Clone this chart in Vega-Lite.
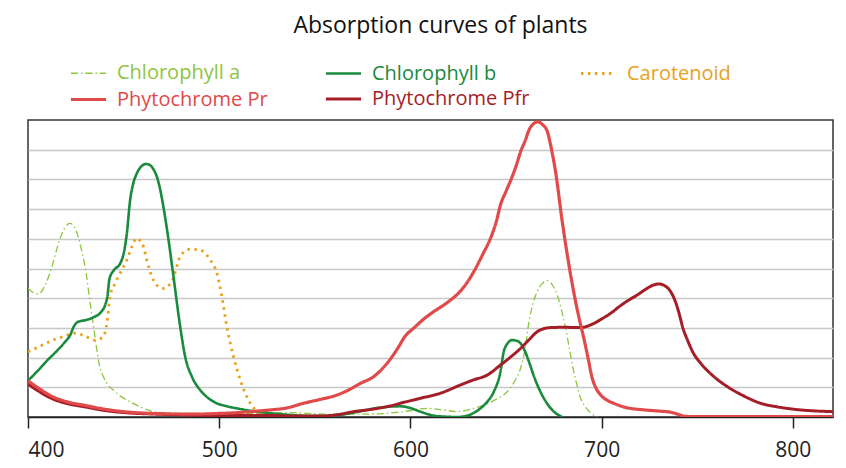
{
  "$schema": "https://vega.github.io/schema/vega-lite/v6.json",
  "width": 805,
  "height": 297,
  "autosize": "none",
  "padding": {"left": 28, "top": 120, "right": 13, "bottom": 51},
  "background": "white",
  "title": {
    "text": "Absorption curves of plants",
    "font": "Open Sans",
    "fontSize": 23,
    "fontWeight": "normal",
    "color": "#111",
    "anchor": "middle",
    "dx": 10,
    "offset": 20
  },
  "config": {
    "view": {"stroke": "#333", "strokeWidth": 1.5},
    "font": "Open Sans"
  },
  "data": {
    "values": [
      {"s": "Chlorophyll a", "w": 400, "v": 4.33},
      {"s": "Chlorophyll a", "w": 403, "v": 4.18},
      {"s": "Chlorophyll a", "w": 405.5, "v": 4.14},
      {"s": "Chlorophyll a", "w": 409, "v": 4.45},
      {"s": "Chlorophyll a", "w": 412.5, "v": 5.06},
      {"s": "Chlorophyll a", "w": 416, "v": 5.85},
      {"s": "Chlorophyll a", "w": 419, "v": 6.35},
      {"s": "Chlorophyll a", "w": 422, "v": 6.52},
      {"s": "Chlorophyll a", "w": 425, "v": 6.3},
      {"s": "Chlorophyll a", "w": 428, "v": 5.62},
      {"s": "Chlorophyll a", "w": 430.5, "v": 4.8},
      {"s": "Chlorophyll a", "w": 432.5, "v": 3.83},
      {"s": "Chlorophyll a", "w": 434.5, "v": 2.95},
      {"s": "Chlorophyll a", "w": 436, "v": 2.26},
      {"s": "Chlorophyll a", "w": 437.7, "v": 1.65},
      {"s": "Chlorophyll a", "w": 439.4, "v": 1.36},
      {"s": "Chlorophyll a", "w": 441.5, "v": 1.1},
      {"s": "Chlorophyll a", "w": 444.7, "v": 0.91},
      {"s": "Chlorophyll a", "w": 448, "v": 0.72},
      {"s": "Chlorophyll a", "w": 452, "v": 0.56},
      {"s": "Chlorophyll a", "w": 455, "v": 0.46},
      {"s": "Chlorophyll a", "w": 460, "v": 0.3},
      {"s": "Chlorophyll a", "w": 465.6, "v": 0.18},
      {"s": "Chlorophyll a", "w": 475, "v": 0.13},
      {"s": "Chlorophyll a", "w": 490, "v": 0.12},
      {"s": "Chlorophyll a", "w": 510, "v": 0.11},
      {"s": "Chlorophyll a", "w": 537, "v": 0.15},
      {"s": "Chlorophyll a", "w": 555, "v": 0.1},
      {"s": "Chlorophyll a", "w": 579, "v": 0.1},
      {"s": "Chlorophyll a", "w": 596.5, "v": 0.18},
      {"s": "Chlorophyll a", "w": 608.7, "v": 0.29},
      {"s": "Chlorophyll a", "w": 617, "v": 0.24},
      {"s": "Chlorophyll a", "w": 624.4, "v": 0.18},
      {"s": "Chlorophyll a", "w": 632, "v": 0.27},
      {"s": "Chlorophyll a", "w": 638.4, "v": 0.4},
      {"s": "Chlorophyll a", "w": 645, "v": 0.6},
      {"s": "Chlorophyll a", "w": 650.6, "v": 0.85},
      {"s": "Chlorophyll a", "w": 654, "v": 1.15},
      {"s": "Chlorophyll a", "w": 657.6, "v": 1.64},
      {"s": "Chlorophyll a", "w": 660, "v": 2.3},
      {"s": "Chlorophyll a", "w": 662, "v": 3.21},
      {"s": "Chlorophyll a", "w": 664, "v": 3.8},
      {"s": "Chlorophyll a", "w": 666.3, "v": 4.22},
      {"s": "Chlorophyll a", "w": 669, "v": 4.5},
      {"s": "Chlorophyll a", "w": 671.9, "v": 4.59},
      {"s": "Chlorophyll a", "w": 674.5, "v": 4.42},
      {"s": "Chlorophyll a", "w": 676.8, "v": 4.11},
      {"s": "Chlorophyll a", "w": 679, "v": 3.6},
      {"s": "Chlorophyll a", "w": 681.2, "v": 2.99},
      {"s": "Chlorophyll a", "w": 683, "v": 2.35},
      {"s": "Chlorophyll a", "w": 684.7, "v": 1.75},
      {"s": "Chlorophyll a", "w": 687, "v": 1.1},
      {"s": "Chlorophyll a", "w": 689, "v": 0.63},
      {"s": "Chlorophyll a", "w": 692, "v": 0.3},
      {"s": "Chlorophyll a", "w": 695, "v": 0.1},
      {"s": "Chlorophyll a", "w": 697.7, "v": 0.0},

      {"s": "Carotenoid", "w": 400, "v": 2.2},
      {"s": "Carotenoid", "w": 406, "v": 2.37},
      {"s": "Carotenoid", "w": 413, "v": 2.59},
      {"s": "Carotenoid", "w": 419, "v": 2.72},
      {"s": "Carotenoid", "w": 424.6, "v": 2.82},
      {"s": "Carotenoid", "w": 429, "v": 2.75},
      {"s": "Carotenoid", "w": 435, "v": 2.59},
      {"s": "Carotenoid", "w": 439.4, "v": 2.7},
      {"s": "Carotenoid", "w": 441.2, "v": 3.15},
      {"s": "Carotenoid", "w": 442.9, "v": 4.05},
      {"s": "Carotenoid", "w": 445.5, "v": 4.5},
      {"s": "Carotenoid", "w": 448.2, "v": 4.84},
      {"s": "Carotenoid", "w": 451.7, "v": 5.29},
      {"s": "Carotenoid", "w": 454.3, "v": 5.73},
      {"s": "Carotenoid", "w": 456.9, "v": 6.02},
      {"s": "Carotenoid", "w": 458.5, "v": 5.95},
      {"s": "Carotenoid", "w": 460.4, "v": 5.73},
      {"s": "Carotenoid", "w": 462.1, "v": 5.29},
      {"s": "Carotenoid", "w": 465.6, "v": 4.61},
      {"s": "Carotenoid", "w": 468, "v": 4.4},
      {"s": "Carotenoid", "w": 470.8, "v": 4.33},
      {"s": "Carotenoid", "w": 475.2, "v": 4.56},
      {"s": "Carotenoid", "w": 479.6, "v": 5.4},
      {"s": "Carotenoid", "w": 482, "v": 5.58},
      {"s": "Carotenoid", "w": 484.8, "v": 5.65},
      {"s": "Carotenoid", "w": 490, "v": 5.62},
      {"s": "Carotenoid", "w": 495.3, "v": 5.29},
      {"s": "Carotenoid", "w": 498.8, "v": 4.84},
      {"s": "Carotenoid", "w": 501.4, "v": 4.05},
      {"s": "Carotenoid", "w": 504, "v": 3.04},
      {"s": "Carotenoid", "w": 507.5, "v": 2.03},
      {"s": "Carotenoid", "w": 511, "v": 1.25},
      {"s": "Carotenoid", "w": 515.3, "v": 0.57},
      {"s": "Carotenoid", "w": 519.7, "v": 0.18},
      {"s": "Carotenoid", "w": 522, "v": 0.0},

      {"s": "Chlorophyll b", "w": 400, "v": 1.22},
      {"s": "Chlorophyll b", "w": 405, "v": 1.55},
      {"s": "Chlorophyll b", "w": 410, "v": 1.9},
      {"s": "Chlorophyll b", "w": 415, "v": 2.22},
      {"s": "Chlorophyll b", "w": 419, "v": 2.5},
      {"s": "Chlorophyll b", "w": 422, "v": 2.75},
      {"s": "Chlorophyll b", "w": 424, "v": 3.05},
      {"s": "Chlorophyll b", "w": 426, "v": 3.2},
      {"s": "Chlorophyll b", "w": 430.7, "v": 3.27},
      {"s": "Chlorophyll b", "w": 435, "v": 3.38},
      {"s": "Chlorophyll b", "w": 438, "v": 3.52},
      {"s": "Chlorophyll b", "w": 440.5, "v": 3.8},
      {"s": "Chlorophyll b", "w": 441.5, "v": 4.05},
      {"s": "Chlorophyll b", "w": 442.6, "v": 4.65},
      {"s": "Chlorophyll b", "w": 445, "v": 4.95},
      {"s": "Chlorophyll b", "w": 448.2, "v": 5.17},
      {"s": "Chlorophyll b", "w": 450, "v": 5.5},
      {"s": "Chlorophyll b", "w": 451.7, "v": 6.18},
      {"s": "Chlorophyll b", "w": 453.4, "v": 7.3},
      {"s": "Chlorophyll b", "w": 455, "v": 7.85},
      {"s": "Chlorophyll b", "w": 456.9, "v": 8.2},
      {"s": "Chlorophyll b", "w": 459, "v": 8.42},
      {"s": "Chlorophyll b", "w": 461.8, "v": 8.52},
      {"s": "Chlorophyll b", "w": 463.9, "v": 8.48},
      {"s": "Chlorophyll b", "w": 465.5, "v": 8.35},
      {"s": "Chlorophyll b", "w": 467.4, "v": 8.09},
      {"s": "Chlorophyll b", "w": 469, "v": 7.7},
      {"s": "Chlorophyll b", "w": 470.8, "v": 7.08},
      {"s": "Chlorophyll b", "w": 473.5, "v": 5.96},
      {"s": "Chlorophyll b", "w": 476.1, "v": 4.72},
      {"s": "Chlorophyll b", "w": 479.6, "v": 3.04},
      {"s": "Chlorophyll b", "w": 482.2, "v": 2.03},
      {"s": "Chlorophyll b", "w": 485.7, "v": 1.36},
      {"s": "Chlorophyll b", "w": 490, "v": 0.91},
      {"s": "Chlorophyll b", "w": 494, "v": 0.65},
      {"s": "Chlorophyll b", "w": 498.8, "v": 0.46},
      {"s": "Chlorophyll b", "w": 504, "v": 0.36},
      {"s": "Chlorophyll b", "w": 509.3, "v": 0.29},
      {"s": "Chlorophyll b", "w": 519.7, "v": 0.18},
      {"s": "Chlorophyll b", "w": 528, "v": 0.12},
      {"s": "Chlorophyll b", "w": 537, "v": 0.07},
      {"s": "Chlorophyll b", "w": 550, "v": 0.03},
      {"s": "Chlorophyll b", "w": 562, "v": 0.06},
      {"s": "Chlorophyll b", "w": 570.3, "v": 0.15},
      {"s": "Chlorophyll b", "w": 584.3, "v": 0.32},
      {"s": "Chlorophyll b", "w": 594.8, "v": 0.36},
      {"s": "Chlorophyll b", "w": 600, "v": 0.3},
      {"s": "Chlorophyll b", "w": 605.2, "v": 0.18},
      {"s": "Chlorophyll b", "w": 610, "v": 0.08},
      {"s": "Chlorophyll b", "w": 615.7, "v": 0.02},
      {"s": "Chlorophyll b", "w": 625, "v": 0.0},
      {"s": "Chlorophyll b", "w": 632, "v": 0.1},
      {"s": "Chlorophyll b", "w": 636.6, "v": 0.29},
      {"s": "Chlorophyll b", "w": 640, "v": 0.5},
      {"s": "Chlorophyll b", "w": 643.6, "v": 0.85},
      {"s": "Chlorophyll b", "w": 647.1, "v": 1.53},
      {"s": "Chlorophyll b", "w": 648.8, "v": 2.2},
      {"s": "Chlorophyll b", "w": 650.5, "v": 2.45},
      {"s": "Chlorophyll b", "w": 653.2, "v": 2.59},
      {"s": "Chlorophyll b", "w": 655.5, "v": 2.57},
      {"s": "Chlorophyll b", "w": 657.6, "v": 2.48},
      {"s": "Chlorophyll b", "w": 660, "v": 2.2},
      {"s": "Chlorophyll b", "w": 662, "v": 1.86},
      {"s": "Chlorophyll b", "w": 665, "v": 1.3},
      {"s": "Chlorophyll b", "w": 668, "v": 0.85},
      {"s": "Chlorophyll b", "w": 671, "v": 0.5},
      {"s": "Chlorophyll b", "w": 675, "v": 0.18},
      {"s": "Chlorophyll b", "w": 679.4, "v": 0.0},

      {"s": "Phytochrome Pfr", "w": 400, "v": 1.11},
      {"s": "Phytochrome Pfr", "w": 406, "v": 0.85},
      {"s": "Phytochrome Pfr", "w": 413.2, "v": 0.6},
      {"s": "Phytochrome Pfr", "w": 420, "v": 0.46},
      {"s": "Phytochrome Pfr", "w": 430.7, "v": 0.33},
      {"s": "Phytochrome Pfr", "w": 440, "v": 0.22},
      {"s": "Phytochrome Pfr", "w": 452, "v": 0.14},
      {"s": "Phytochrome Pfr", "w": 465.6, "v": 0.1},
      {"s": "Phytochrome Pfr", "w": 480, "v": 0.07},
      {"s": "Phytochrome Pfr", "w": 500.5, "v": 0.05},
      {"s": "Phytochrome Pfr", "w": 527, "v": 0.05},
      {"s": "Phytochrome Pfr", "w": 540, "v": 0.03},
      {"s": "Phytochrome Pfr", "w": 552.9, "v": 0.03},
      {"s": "Phytochrome Pfr", "w": 562, "v": 0.08},
      {"s": "Phytochrome Pfr", "w": 570.3, "v": 0.18},
      {"s": "Phytochrome Pfr", "w": 580, "v": 0.26},
      {"s": "Phytochrome Pfr", "w": 587.8, "v": 0.35},
      {"s": "Phytochrome Pfr", "w": 597, "v": 0.5},
      {"s": "Phytochrome Pfr", "w": 605.2, "v": 0.63},
      {"s": "Phytochrome Pfr", "w": 615.7, "v": 0.8},
      {"s": "Phytochrome Pfr", "w": 626.2, "v": 1.08},
      {"s": "Phytochrome Pfr", "w": 633, "v": 1.25},
      {"s": "Phytochrome Pfr", "w": 640.1, "v": 1.41},
      {"s": "Phytochrome Pfr", "w": 647.1, "v": 1.75},
      {"s": "Phytochrome Pfr", "w": 652, "v": 2.0},
      {"s": "Phytochrome Pfr", "w": 657.6, "v": 2.31},
      {"s": "Phytochrome Pfr", "w": 662, "v": 2.6},
      {"s": "Phytochrome Pfr", "w": 666.3, "v": 2.87},
      {"s": "Phytochrome Pfr", "w": 670, "v": 2.98},
      {"s": "Phytochrome Pfr", "w": 673.3, "v": 3.01},
      {"s": "Phytochrome Pfr", "w": 680, "v": 3.02},
      {"s": "Phytochrome Pfr", "w": 689, "v": 3.01},
      {"s": "Phytochrome Pfr", "w": 694.2, "v": 3.1},
      {"s": "Phytochrome Pfr", "w": 700, "v": 3.3},
      {"s": "Phytochrome Pfr", "w": 704.7, "v": 3.49},
      {"s": "Phytochrome Pfr", "w": 709.9, "v": 3.75},
      {"s": "Phytochrome Pfr", "w": 714, "v": 3.93},
      {"s": "Phytochrome Pfr", "w": 718.7, "v": 4.11},
      {"s": "Phytochrome Pfr", "w": 723, "v": 4.3},
      {"s": "Phytochrome Pfr", "w": 727, "v": 4.44},
      {"s": "Phytochrome Pfr", "w": 730, "v": 4.48},
      {"s": "Phytochrome Pfr", "w": 733, "v": 4.42},
      {"s": "Phytochrome Pfr", "w": 736.1, "v": 4.22},
      {"s": "Phytochrome Pfr", "w": 738.5, "v": 3.9},
      {"s": "Phytochrome Pfr", "w": 740.5, "v": 3.49},
      {"s": "Phytochrome Pfr", "w": 742.5, "v": 3.0},
      {"s": "Phytochrome Pfr", "w": 744.9, "v": 2.59},
      {"s": "Phytochrome Pfr", "w": 748, "v": 2.15},
      {"s": "Phytochrome Pfr", "w": 751.8, "v": 1.81},
      {"s": "Phytochrome Pfr", "w": 758, "v": 1.4},
      {"s": "Phytochrome Pfr", "w": 765.8, "v": 1.02},
      {"s": "Phytochrome Pfr", "w": 774, "v": 0.72},
      {"s": "Phytochrome Pfr", "w": 783.2, "v": 0.46},
      {"s": "Phytochrome Pfr", "w": 792, "v": 0.34},
      {"s": "Phytochrome Pfr", "w": 800.7, "v": 0.26},
      {"s": "Phytochrome Pfr", "w": 810, "v": 0.21},
      {"s": "Phytochrome Pfr", "w": 821, "v": 0.18},

      {"s": "Phytochrome Pr", "w": 400, "v": 1.22},
      {"s": "Phytochrome Pr", "w": 406, "v": 0.95},
      {"s": "Phytochrome Pr", "w": 413, "v": 0.68},
      {"s": "Phytochrome Pr", "w": 420, "v": 0.52},
      {"s": "Phytochrome Pr", "w": 430.7, "v": 0.38},
      {"s": "Phytochrome Pr", "w": 437.7, "v": 0.29},
      {"s": "Phytochrome Pr", "w": 450, "v": 0.18},
      {"s": "Phytochrome Pr", "w": 465, "v": 0.12},
      {"s": "Phytochrome Pr", "w": 480, "v": 0.1},
      {"s": "Phytochrome Pr", "w": 490, "v": 0.1},
      {"s": "Phytochrome Pr", "w": 500, "v": 0.12},
      {"s": "Phytochrome Pr", "w": 510, "v": 0.15},
      {"s": "Phytochrome Pr", "w": 516, "v": 0.18},
      {"s": "Phytochrome Pr", "w": 527, "v": 0.24},
      {"s": "Phytochrome Pr", "w": 535, "v": 0.3},
      {"s": "Phytochrome Pr", "w": 544, "v": 0.46},
      {"s": "Phytochrome Pr", "w": 552, "v": 0.58},
      {"s": "Phytochrome Pr", "w": 561.6, "v": 0.74},
      {"s": "Phytochrome Pr", "w": 568, "v": 0.92},
      {"s": "Phytochrome Pr", "w": 573.8, "v": 1.13},
      {"s": "Phytochrome Pr", "w": 580.8, "v": 1.36},
      {"s": "Phytochrome Pr", "w": 587.8, "v": 1.81},
      {"s": "Phytochrome Pr", "w": 593.9, "v": 2.37},
      {"s": "Phytochrome Pr", "w": 597, "v": 2.7},
      {"s": "Phytochrome Pr", "w": 601.7, "v": 2.99},
      {"s": "Phytochrome Pr", "w": 607, "v": 3.3},
      {"s": "Phytochrome Pr", "w": 612.2, "v": 3.55},
      {"s": "Phytochrome Pr", "w": 617, "v": 3.75},
      {"s": "Phytochrome Pr", "w": 621, "v": 3.94},
      {"s": "Phytochrome Pr", "w": 624, "v": 4.1},
      {"s": "Phytochrome Pr", "w": 627, "v": 4.3},
      {"s": "Phytochrome Pr", "w": 633.1, "v": 4.89},
      {"s": "Phytochrome Pr", "w": 638, "v": 5.5},
      {"s": "Phytochrome Pr", "w": 641.9, "v": 6.02},
      {"s": "Phytochrome Pr", "w": 645, "v": 6.6},
      {"s": "Phytochrome Pr", "w": 647.1, "v": 7.14},
      {"s": "Phytochrome Pr", "w": 650, "v": 7.6},
      {"s": "Phytochrome Pr", "w": 653.2, "v": 8.09},
      {"s": "Phytochrome Pr", "w": 655.5, "v": 8.5},
      {"s": "Phytochrome Pr", "w": 657.6, "v": 8.93},
      {"s": "Phytochrome Pr", "w": 660, "v": 9.3},
      {"s": "Phytochrome Pr", "w": 662, "v": 9.66},
      {"s": "Phytochrome Pr", "w": 664.5, "v": 9.88},
      {"s": "Phytochrome Pr", "w": 666.7, "v": 9.94},
      {"s": "Phytochrome Pr", "w": 669, "v": 9.85},
      {"s": "Phytochrome Pr", "w": 671.6, "v": 9.61},
      {"s": "Phytochrome Pr", "w": 673.5, "v": 9.1},
      {"s": "Phytochrome Pr", "w": 675.9, "v": 8.26},
      {"s": "Phytochrome Pr", "w": 679.4, "v": 6.58},
      {"s": "Phytochrome Pr", "w": 682.9, "v": 5.12},
      {"s": "Phytochrome Pr", "w": 686.4, "v": 3.88},
      {"s": "Phytochrome Pr", "w": 688.5, "v": 3.25},
      {"s": "Phytochrome Pr", "w": 690.7, "v": 2.65},
      {"s": "Phytochrome Pr", "w": 693, "v": 1.95},
      {"s": "Phytochrome Pr", "w": 695.1, "v": 1.3},
      {"s": "Phytochrome Pr", "w": 697, "v": 0.98},
      {"s": "Phytochrome Pr", "w": 699.5, "v": 0.74},
      {"s": "Phytochrome Pr", "w": 703, "v": 0.56},
      {"s": "Phytochrome Pr", "w": 706.4, "v": 0.46},
      {"s": "Phytochrome Pr", "w": 712, "v": 0.33},
      {"s": "Phytochrome Pr", "w": 722.2, "v": 0.24},
      {"s": "Phytochrome Pr", "w": 730, "v": 0.2},
      {"s": "Phytochrome Pr", "w": 736.1, "v": 0.16},
      {"s": "Phytochrome Pr", "w": 740, "v": 0.09},
      {"s": "Phytochrome Pr", "w": 743.1, "v": 0.03},
      {"s": "Phytochrome Pr", "w": 750, "v": 0.01},
      {"s": "Phytochrome Pr", "w": 821, "v": 0.01}
    ]
  },
  "mark": {"type": "line", "interpolate": "monotone", "clip": true},
  "encoding": {
    "x": {
      "field": "w",
      "type": "quantitative",
      "scale": {"domain": [400, 821], "nice": false, "zero": false},
      "axis": {
        "title": null,
        "values": [400, 500, 600, 700, 800],
        "grid": false,
        "domainColor": "#222",
        "domainWidth": 1.5,
        "tickColor": "#222",
        "tickWidth": 1.5,
        "tickSize": 11,
        "labelFont": "Open Sans",
        "labelFontSize": 21,
        "labelColor": "#222",
        "labelPadding": 11
      }
    },
    "y": {
      "field": "v",
      "type": "quantitative",
      "scale": {"domain": [0, 10], "nice": false},
      "axis": {
        "title": null,
        "values": [1, 2, 3, 4, 5, 6, 7, 8, 9],
        "labels": false,
        "ticks": false,
        "domain": false,
        "grid": true,
        "gridColor": "#c8c8c8",
        "gridWidth": 1.5
      }
    },
    "color": {
      "field": "s",
      "type": "nominal",
      "scale": {
        "domain": ["Chlorophyll a", "Chlorophyll b", "Carotenoid", "Phytochrome Pr", "Phytochrome Pfr"],
        "range": ["#8dc63f", "#1a8a3c", "#e8a21c", "#e04a4a", "#a51d26"]
      },
      "legend": {
        "title": null,
        "orient": "none",
        "legendX": 45,
        "legendY": -62,
        "direction": "horizontal",
        "columns": 3,
        "gridAlign": "all",
        "columnPadding": 44,
        "rowPadding": -1,
        "symbolType": "M-1.3,0H1.3",
        "symbolSize": 729,
        "labelFont": "Open Sans",
        "labelFontSize": 20,
        "labelOffset": 13,
        "labelLimit": 300,
        "encode": {
          "labels": {"update": {"fill": {"scale": "color", "field": "value"}}}
        }
      }
    },
    "strokeDash": {
      "field": "s",
      "type": "nominal",
      "scale": {
        "domain": ["Chlorophyll a", "Chlorophyll b", "Carotenoid", "Phytochrome Pr", "Phytochrome Pfr"],
        "range": [[7, 3, 1.5, 3], [1, 0], [2.5, 4.5], [1, 0], [1, 0]]
      }
    },
    "strokeWidth": {
      "field": "s",
      "type": "nominal",
      "scale": {
        "type": "ordinal",
        "domain": ["Chlorophyll a", "Chlorophyll b", "Carotenoid", "Phytochrome Pr", "Phytochrome Pfr"],
        "range": [1.3, 2.6, 2.8, 3.2, 3]
      }
    }
  }
}
